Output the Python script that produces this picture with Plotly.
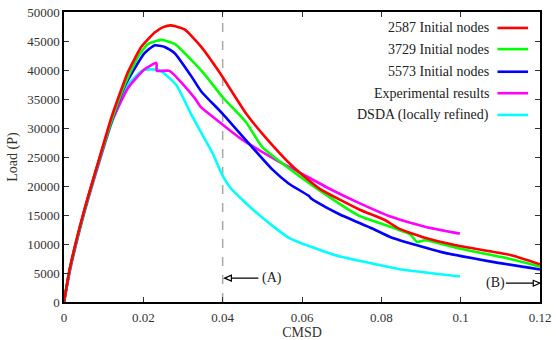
import plotly.graph_objects as go

# ---- data ----
red_x = [0, 0.0015, 0.005, 0.009, 0.012, 0.0161, 0.0195, 0.0228, 0.025, 0.027, 0.0304, 0.0346, 0.0392,
         0.0459, 0.0509, 0.0576, 0.0643, 0.0743, 0.081, 0.0843, 0.091, 0.0994, 0.1128, 0.12]
red_y = [0, 5900, 15600, 25000, 31900, 39600, 44000, 46430, 47400, 47700, 47000, 44000, 39600,
         32500, 28300, 23400, 19600, 16000, 14100, 12700, 11070, 9700, 8060, 6500]

green_x = [0, 0.0015, 0.005, 0.009, 0.012, 0.0155, 0.0187, 0.0212, 0.0245, 0.0279, 0.032, 0.0354,
           0.040, 0.0459, 0.050, 0.056, 0.0626, 0.0743, 0.081, 0.0873, 0.089, 0.091, 0.0994, 0.112, 0.12]
green_y = [0, 5800, 15400, 24800, 31300, 37800, 42300, 44500, 45200, 44500, 41800, 39300,
           35300, 31000, 26700, 23400, 20100, 14900, 13270, 11630, 10360, 10640, 9260, 7500, 6100]

blue_x = [0, 0.0015, 0.005, 0.009, 0.012, 0.0155, 0.0203, 0.0228, 0.0254, 0.0279, 0.032, 0.0346,
          0.040, 0.0467, 0.0525, 0.0567, 0.0617, 0.0624, 0.0632, 0.0693, 0.0776, 0.0827, 0.0952, 0.1077, 0.12]
blue_y = [0, 5800, 15400, 24800, 31200, 37500, 42900, 44240, 43970, 42900, 39030, 36300,
          32450, 27250, 22860, 20400, 18300, 17800, 17450, 15180, 12710, 11070, 8600, 6960, 5600]

exp_x = [0, 0.0015, 0.005, 0.009, 0.012, 0.0161, 0.0203, 0.0233, 0.0234, 0.0266, 0.0329, 0.0346,
         0.0383, 0.0442, 0.0534, 0.0592, 0.0668, 0.0743, 0.0827, 0.091, 0.0998]
exp_y = [0, 5500, 15200, 24500, 31000, 36840, 40130, 41230, 39850, 39850, 35200, 33550,
         31500, 28340, 24500, 22400, 19570, 17100, 14640, 12990, 11790]

dsda_x = [0, 0.0015, 0.005, 0.009, 0.012, 0.0161, 0.0199, 0.0241, 0.0283, 0.032, 0.0341, 0.0375,
          0.040, 0.0421, 0.0484, 0.0567, 0.0684, 0.0793, 0.0843, 0.0998]
dsda_y = [0, 5400, 15000, 24300, 30800, 37400, 39970, 39970, 37400, 32450, 29800, 25600,
          21760, 19570, 15460, 11070, 8060, 6410, 5700, 4390]

series_names = ["2587 Initial nodes", "3729 Initial nodes", "5573 Initial nodes",
                "Experimental results", "DSDA (locally refined)"]
series_colors = ["#ff0000", "#00ff00", "#0000ff", "#ff00ff", "#00ffff"]
series_x = [red_x, green_x, blue_x, exp_x, dsda_x]
series_y = [red_y, green_y, blue_y, exp_y, dsda_y]

x_ticks = [0, 0.02, 0.04, 0.06, 0.08, 0.1, 0.12]
x_tick_labels = ["0", "0.02", "0.04", "0.06", "0.08", "0.1", "0.12"]
y_ticks = list(range(0, 50001, 5000))

dash_x = 0.04
label_A = "(A)"
label_B = "(B)"
arrow_A = dict(tip=0.0405, tail=0.049, y=4110, text_x=0.0525)
arrow_B = dict(tip=0.12, tail=0.1114, y=3240, text_x=0.1089)

FONT = "'Liberation Serif', 'DejaVu Serif', serif"

fig = go.Figure()
# draw in reverse so red is on top
for name, col, xs, ys in reversed(list(zip(series_names, series_colors, series_x, series_y))):
    fig.add_trace(go.Scatter(x=xs, y=ys, mode="lines", name=name,
                             line=dict(color=col, width=2.6, shape="spline", smoothing=0.5),
                             showlegend=False))

shapes = []
annotations = []
# dashed vertical line
shapes.append(dict(type="line", xref="x", yref="paper", x0=dash_x, x1=dash_x, y0=0, y1=1,
                   line=dict(color="#a8a8a8", width=1.5, dash="dash"), layer="below"))

# arrows with open heads
def add_arrow(tip, tail, y, direction):
    shapes.append(dict(type="line", xref="x", yref="y", x0=tail, x1=tip - direction * 0.0004, y0=y, y1=y,
                       line=dict(color="black", width=1.2)))
    hx = 0.0017 * direction
    hy = 500
    path = f"M {tip} {y} L {tip - hx} {y + hy} L {tip - hx} {y - hy} Z"
    shapes.append(dict(type="path", xref="x", yref="y", path=path,
                       line=dict(color="black", width=1.2), fillcolor="white"))

add_arrow(arrow_A["tip"], arrow_A["tail"], arrow_A["y"], -1)
add_arrow(arrow_B["tip"], arrow_B["tail"], arrow_B["y"], 1)
annotations.append(dict(x=arrow_A["text_x"], y=arrow_A["y"], xref="x", yref="y", text=label_A,
                        showarrow=False, font=dict(family=FONT, size=14, color="#222")))
annotations.append(dict(x=arrow_B["text_x"], y=arrow_B["y"], xref="x", yref="y", text=label_B,
                        showarrow=False, font=dict(family=FONT, size=14, color="#222")))

# custom legend: text right-aligned, line sample on the right
leg_rows = [0.945, 0.872, 0.794, 0.720, 0.645]
for name, col, yy in zip(series_names, series_colors, leg_rows):
    annotations.append(dict(x=0.8975, y=yy, xref="paper", yref="paper", text=name, showarrow=False,
                            xanchor="right", yanchor="middle",
                            font=dict(family=FONT, size=14, color="#222")))
    shapes.append(dict(type="line", xref="paper", yref="paper", x0=0.9107, x1=0.9749, y0=yy, y1=yy,
                       line=dict(color=col, width=2.6)))

axis_common = dict(showline=True, linecolor="black", linewidth=1.5, mirror="ticks",
                   ticks="inside", ticklen=5, tickwidth=1.2, tickcolor="#333",
                   showgrid=False, zeroline=False, ticklabeloverflow="allow",
                   tickfont=dict(family=FONT, size=13, color="#333"))

fig.update_layout(
    width=556, height=340,
    margin=dict(l=64, r=14, t=5, b=31),
    paper_bgcolor="white", plot_bgcolor="white",
    font=dict(family=FONT),
    xaxis=dict(range=[0, 0.12], tickvals=x_ticks, ticktext=x_tick_labels, ticklabelstandoff=3,
               title=dict(text="CMSD", font=dict(family=FONT, size=14, color="#333"), standoff=0),
               **axis_common),
    yaxis=dict(range=[0, 50000], tickvals=y_ticks, tickformat="d",
               title=dict(text="Load (P)", font=dict(family=FONT, size=14, color="#333"), standoff=6),
               **axis_common),
    shapes=shapes, annotations=annotations,
)

fig.write_html("out.html")
